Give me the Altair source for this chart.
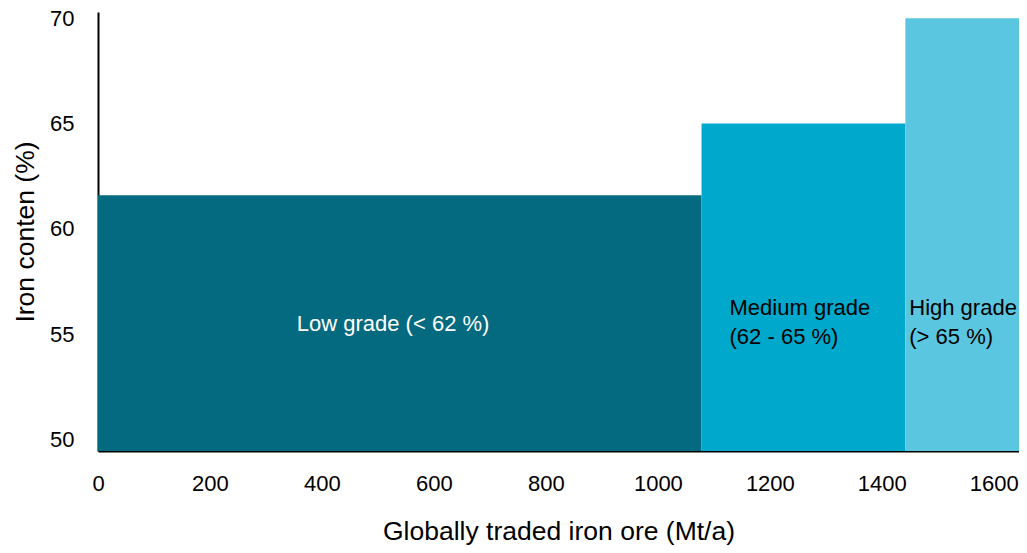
import altair as alt
import pandas as pd

# Data
grades = ["Low grade", "Medium grade", "High grade"]
start_mt = [0, 1078, 1442]
end_mt = [1078, 1442, 1650]
iron_pct = [61.6, 65.0, 70.0]
base_pct = [49.45, 49.45, 49.45]
colors = ["#046A7F", "#00A8CC", "#5BC6DF"]

label_text = ["Low grade (< 62 %)", "Medium grade\n(62 - 65 %)", "High grade\n(> 65 %)"]
label_x = [527, 1128, 1449]
label_y = [55.5, 56.25, 56.25]
label_align = ["center", "left", "left"]
label_color = ["white", "black", "black"]

x_ticks = [0, 200, 400, 600, 800, 1000, 1200, 1400, 1600]
y_ticks = [50, 55, 60, 65, 70]

bars = pd.DataFrame({
    "grade": grades, "start": start_mt, "end": end_mt,
    "iron": iron_pct, "base": base_pct,
})

xs = alt.Scale(domain=[0, 1645], nice=False, zero=False, clamp=True)
ys = alt.Scale(domain=[49.45, 70.3], nice=False, zero=False)

font = "Liberation Sans"

bar_layer = alt.Chart(bars).mark_rect().encode(
    x=alt.X("start:Q", scale=xs, title="Globally traded iron ore (Mt/a)",
            axis=alt.Axis(values=x_ticks, format="d", ticks=False, grid=False, labelPadding=22,
                          labelFlush=False, titlePadding=24,
                          domainColor="black", domainWidth=2)),
    x2="end:Q",
    y=alt.Y("base:Q", scale=ys, title="Iron conten (%)",
            axis=alt.Axis(values=y_ticks, format="d", ticks=False, grid=False, labelPadding=24,
                          titlePadding=10, domainColor="black", domainWidth=2)),
    y2="iron:Q",
    color=alt.Color("grade:N", scale=alt.Scale(domain=grades, range=colors), legend=None),
)

text_layers = []
for t, lx, ly, al, c in zip(label_text, label_x, label_y, label_align, label_color):
    df = pd.DataFrame({"t": [t], "x": [lx], "y": [ly]})
    text_layers.append(
        alt.Chart(df).mark_text(align=al, baseline="middle", lineBreak="\n",
                                fontSize=22, font=font, color=c, lineHeight=29).encode(
            x=alt.X("x:Q", scale=xs), y=alt.Y("y:Q", scale=ys), text="t:N")
    )

chart = alt.layer(bar_layer, *text_layers).properties(
    width=921, height=439,
    autosize=alt.AutoSizeParams(type="none"),
    padding={"left": 90, "top": 4, "right": 0, "bottom": 94},
).configure_view(stroke=None).configure_axis(
    labelFont=font, titleFont=font, labelFontSize=22, titleFontSize=26.5,
    titleFontWeight="normal", labelColor="black", titleColor="black",
)

chart.save("out.html", embed_options={"renderer": "svg", "actions": False})
